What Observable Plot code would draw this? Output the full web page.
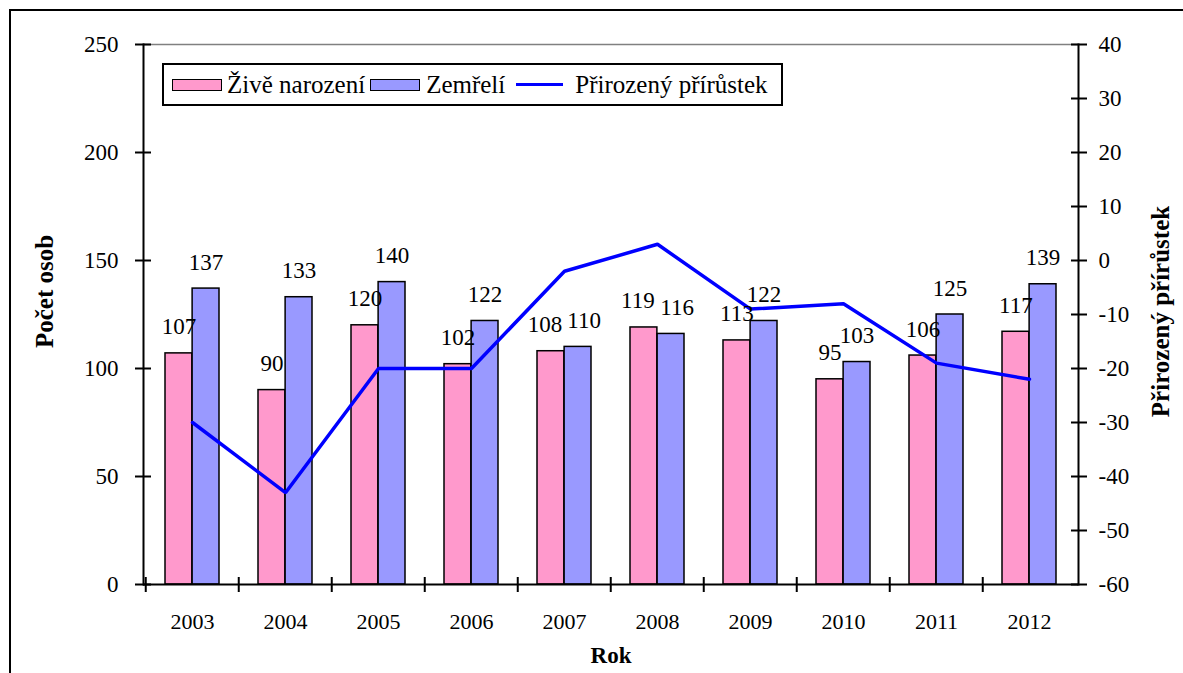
<!DOCTYPE html>
<html>
<head>
<meta charset="utf-8">
<script src="https://cdn.jsdelivr.net/npm/d3@7"></script>
<script src="https://cdn.jsdelivr.net/npm/@observablehq/plot@0.6"></script>
<style>
html, body { margin: 0; padding: 0; background: #fff; overflow: hidden; }
#wrap { position: relative; width: 1183px; height: 673px; overflow: hidden; font-family: "Liberation Serif", "Times New Roman", serif; }
#border { position: absolute; left: 9px; top: 9px; width: 1300px; height: 800px; border: 2px solid #000; box-sizing: border-box; }
#chart { position: absolute; left: 0; top: 0; }
#legend { position: absolute; left: 162px; top: 63px; width: 621px; height: 43px; box-sizing: border-box; border: 2px solid #000; background: #fff; display: flex; align-items: center; font-family: "Liberation Serif", "Times New Roman", serif; font-size: 25px; white-space: nowrap; padding-left: 8px; color: #000; }
#legend .sw { display: inline-block; width: 50px; height: 12px; border: 1.5px solid #000; box-sizing: border-box; flex: none; }
#legend .ln { display: inline-block; width: 47px; height: 3.5px; flex: none; }
</style>
</head>
<body>
<div id="wrap">
  <div id="border"></div>
  <div id="chart"></div>
  <div id="legend"></div>
</div>
<script>
// ---- data ----
const years = ["2003", "2004", "2005", "2006", "2007", "2008", "2009", "2010", "2011", "2012"];
const born = [107, 90, 120, 102, 108, 119, 113, 95, 106, 117];
const died = [137, 133, 140, 122, 110, 116, 122, 103, 125, 139];
const increase = [-30, -43, -20, -20, -2, 3, -9, -8, -19, -22];
const leftTicks = [0, 50, 100, 150, 200, 250];
const rightTicks = [-60, -50, -40, -30, -20, -10, 0, 10, 20, 30, 40];
const seriesNames = ["Živě narození", "Zemřelí", "Přirozený přírůstek"];
const colors = ["#ff99cc", "#9999ff", "#0000ff"];
const xTitle = "Rok";
const yTitle = "Počet osob";
const y2Title = "Přirozený přírůstek";

// ---- layout ----
const W = 1183, H = 673, mL = 143, mR = 105, mT = 44, mB = 89;
const leftMin = 0, leftMax = 250, rightMin = -60, rightMax = 40;
const step = (W - mL - mR) / years.length;
const groupFrac = 0.58;
const barW = step * groupFrac / 2;
const k = (leftMax - leftMin) / (rightMax - rightMin);
const toLeft = v => (v - rightMin) * k + leftMin;
const fromLeft = d => Math.round((d - leftMin) / k + rightMin);
// push paired labels apart when the two bars are almost equally tall
const nudge = d => Math.abs(d.born - d.died) < 5 ? 6 : 0;

const rows = years.map((year, i) => ({year, born: born[i], died: died[i], inc: increase[i]}));
const font = '"Liberation Serif", "Times New Roman", serif';

const chart = Plot.plot({
  width: W, height: H,
  marginLeft: mL, marginRight: mR, marginTop: mT, marginBottom: mB,
  style: {fontFamily: font, fontSize: "23px", color: "#000", background: "transparent", overflow: "visible"},
  x: {type: "band", domain: years, paddingInner: 1 - groupFrac, paddingOuter: (1 - groupFrac) / 2, axis: null, label: null},
  y: {domain: [leftMin, leftMax], axis: null, label: null},
  marks: [
    Plot.ruleY([leftMax], {stroke: "#808080", strokeWidth: 1.5}),
    Plot.barY(rows, {x: "year", y: "born", fill: colors[0], stroke: "#000", strokeWidth: 1.5, insetRight: barW}),
    Plot.barY(rows, {x: "year", y: "died", fill: colors[1], stroke: "#000", strokeWidth: 1.5, insetLeft: barW}),
    Plot.line(rows, {x: "year", y: d => toLeft(d.inc), stroke: colors[2], strokeWidth: 3.5, strokeLinejoin: "miter"}),
    Plot.text(rows.map(d => ({...d, off: nudge(d)})), {x: "year", y: "born", text: d => String(d.born), dx: -barW / 2, dy: -19, lineAnchor: "bottom", fontSize: 23,
      transform: null, render: (index, scales, values, dims, ctx, next) => {
        const g = next(index, scales, values, dims, ctx);
        const data = rows;
        g.querySelectorAll("text").forEach((t, j) => {
          const i = index[j];
          const o = nudge(data[i]);
          if (o) t.setAttribute("x", +t.getAttribute("x") - o);
        });
        return g;
      }}),
    Plot.text(rows, {x: "year", y: "died", text: d => String(d.died), dx: barW / 2, dy: -19, lineAnchor: "bottom", fontSize: 23,
      render: (index, scales, values, dims, ctx, next) => {
        const g = next(index, scales, values, dims, ctx);
        g.querySelectorAll("text").forEach((t, j) => {
          const i = index[j];
          const o = nudge(rows[i]);
          if (o) t.setAttribute("x", +t.getAttribute("x") + o);
        });
        return g;
      }}),
    Plot.ruleY([leftMin], {stroke: "#000", strokeWidth: 2}),
    Plot.frame({anchor: "left", stroke: "#000", strokeWidth: 2}),
    Plot.frame({anchor: "right", stroke: "#000", strokeWidth: 2}),
    Plot.axisY({ticks: leftTicks, tickSize: 16, dx: 8, tickPadding: 17, strokeWidth: 2, label: null, fontSize: 23}),
    Plot.axisY({anchor: "right", ticks: rightTicks.map(toLeft), tickFormat: d => String(fromLeft(d)), tickSize: 16, dx: -8, tickPadding: 12, strokeWidth: 2, label: null, fontSize: 23}),
    Plot.axisX({tickSize: 0, tickPadding: 29, label: null, fontSize: 22}),
    Plot.tickX(years, {x: d => d, dx: -step / 2, insetTop: (H - mB - mT) - 7, insetBottom: -8, stroke: "#000", strokeWidth: 2}),
    Plot.text([yTitle], {frameAnchor: "left", text: d => d, dx: -99, dy: -23, rotate: -90, textAnchor: "middle", fontWeight: "bold", fontSize: 25}),
    Plot.text([y2Title], {frameAnchor: "right", text: d => d, dx: 82, dy: -3, rotate: -90, textAnchor: "middle", fontWeight: "bold", fontSize: 25}),
    Plot.text([xTitle], {frameAnchor: "bottom", text: d => d, dy: 78, textAnchor: "middle", fontWeight: "bold", fontSize: 23})
  ]
});
document.getElementById("chart").appendChild(chart);

// ---- legend ----
const legend = document.getElementById("legend");
const gaps = [[0, 5], [5, 6], [11, 12]];
seriesNames.forEach((name, i) => {
  const sw = document.createElement("span");
  sw.className = i < 2 ? "sw" : "ln";
  sw.style.background = colors[i];
  sw.style.marginLeft = gaps[i][0] + "px";
  const t = document.createElement("span");
  t.textContent = name;
  t.style.marginLeft = gaps[i][1] + "px";
  legend.appendChild(sw);
  legend.appendChild(t);
});
</script>
</body>
</html>
